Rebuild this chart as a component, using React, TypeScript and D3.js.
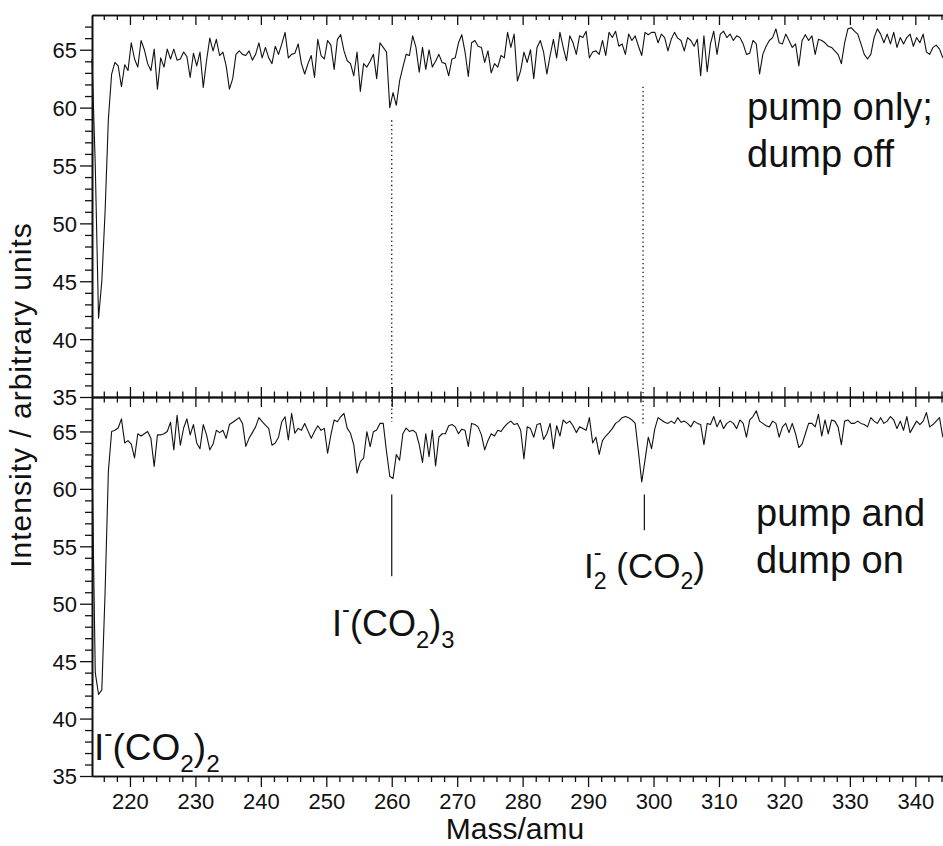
import React, { useEffect, useRef } from "react";
import * as d3 from "d3";

const W = 943;
const H = 846;

// mass axis of both spectra: first point and spacing (amu)
const MASS_START = 214.2;
const MASS_STEP = 0.5;

// upper trace: pump only, dump off
const pumpOnly: number[] = [
  64.2, 55, 41.8, 45, 51, 59, 62.9,
  63.9, 63.6, 61.8, 63.7, 63.2, 65.6, 64.2, 63.5, 65.8, 65.0, 63.8, 63.2, 65.05, 61.6,
  64.3, 63.5, 65.05, 64.2, 65.05, 64.1, 64.2, 64.8, 64.4, 62.6,
  64.7, 63.6, 64.8, 61.75, 64.05, 66.0, 64.9, 65.9, 64.5, 64.8,
  63.6, 61.6, 62.5, 64.6, 64.9, 64.6, 64.5, 64.9, 64.1, 64.6,
  65.6, 64.3, 65.2, 64.3, 63.8, 65.3, 64.6, 65.5, 66.5, 64.3,
  64.6, 64.7, 65.5, 63.8, 62.9, 63.8, 64.5, 62.6, 65.9, 64.5,
  64.2, 65.8, 65.4, 63.3, 65.9, 66.3, 64.9, 64.05, 63.8, 62.75,
  64.8, 61.4, 63.8, 63.5, 64.0, 64.6, 62.5, 65.6, 65.2, 64.8,
  60.0, 61.3, 60.2, 62.3, 63.5, 64.6, 64.5, 66.2, 65.2, 63.05,
  65.2, 63.3, 65.0, 63.5, 64.0, 64.6, 63.9, 63.8, 62.75, 64.2,
  64.3, 65.6, 66.3, 64.8, 62.7, 65.6, 65.8, 65.3, 65.2, 63.9,
  64.9, 63.0, 63.8, 63.5, 64.5, 64.3, 66.5, 65.2, 66.35, 62.3,
  63.2, 64.8, 63.9, 65.0, 62.5, 65.2, 65.8, 64.8, 62.9, 64.5,
  65.9, 64.3, 66.5, 65.2, 64.05, 66.2, 65.6, 64.6, 66.2, 66.05,
  66.6, 64.3, 64.8, 64.9, 64.6, 65.8, 64.5, 66.5, 66.05, 66.6,
  65.3, 65.5, 64.6, 66.35, 65.8, 66.2, 65.3, 64.5, 66.5, 66.3,
  66.5, 66.5, 65.6, 66.35, 66.05, 64.9, 65.9, 66.5, 66.0, 65.8,
  64.9, 66.05, 65.8, 65.3, 65.9, 62.75, 66.2, 63.1, 65.5, 66.6,
  64.6, 66.35, 66.6, 66.05, 66.35, 65.8, 66.2, 66.05, 65.5, 64.6,
  64.7, 65.8, 65.5, 62.9, 64.6, 65.3, 65.8, 66.05, 66.8, 65.6,
  65.5, 66.35, 65.8, 65.2, 65.5, 63.6, 65.8, 66.3, 65.8, 66.2,
  64.6, 65.9, 65.8, 65.6, 65.3, 65.2, 64.9, 64.6, 63.8, 65.6,
  66.8, 66.9, 66.6, 66.35, 65.5, 64.6, 64.2, 64.6, 66.05, 66.8,
  66.35, 65.6, 66.35, 65.5, 66.5, 65.2, 66.05, 65.5, 66.05, 66.35,
  65.3, 66.05, 65.6, 66.35, 64.8, 64.6, 65.2, 65.4, 65.05, 64.3,
];

// lower trace: pump and dump on
const pumpDump: number[] = [
  62.6, 44, 42.1, 42.5, 51, 61.5, 65.0,
  65.1, 65.3, 66.1, 64.0, 64.2, 63.9, 62.7, 64.8, 64.6, 64.8, 65.0, 64.4, 61.95, 64.7,
  64.7, 64.8, 65.0, 65.8, 63.4, 66.4, 63.8, 65.3, 66.1, 64.7,
  65.6, 64.0, 63.5, 65.6, 64.7, 63.4, 63.9, 65.1, 64.9, 65.1,
  64.4, 65.6, 65.8, 66.0, 66.2, 65.7, 63.7, 64.4, 64.9, 65.4,
  66.2, 65.85, 65.56, 65.27, 63.8, 64.0, 64.5, 65.85, 66.28, 64.26,
  66.57, 64.84, 65.27, 65.1, 65.7, 65.05, 64.4, 65.0, 65.5, 65.1,
  65.27, 63.1, 64.7, 66.0, 65.85, 66.28, 66.57, 65.27, 64.84, 63.83,
  61.37, 62.38, 62.67, 64.98, 63.68, 64.98, 65.12, 65.7, 65.7, 63.25,
  61.1, 60.9, 63.0, 62.5, 64.8, 65.3, 65.0, 65.1, 64.9, 63.85,
  62.3, 64.8, 62.8, 65.1, 62.0, 64.5, 64.8, 64.8, 65.5, 65.6,
  65.4, 64.8, 65.2, 65.1, 63.7, 65.7, 65.6, 65.4, 64.7, 63.4,
  64.2, 64.8, 64.6, 65.1, 65.0, 65.4, 65.7, 65.9, 65.6, 65.7,
  65.1, 62.6, 65.4, 65.25, 64.5, 65.6, 65.7, 64.3, 64.8, 65.7,
  63.5, 65.5, 64.6, 66.0, 65.7, 65.9, 65.5, 64.9, 65.4, 65.25,
  65.1, 66.2, 64.0, 64.5, 63.0, 64.2, 64.6, 64.9, 65.25, 65.7,
  65.9, 66.2, 66.3, 66.2, 66.0, 65.7, 63.2, 60.6, 62.5, 64.5,
  63.5, 65.25, 66.2, 66.0, 65.8, 65.7, 65.9, 65.7, 66.2, 65.8,
  65.9, 65.7, 65.4, 65.9, 65.7, 65.6, 63.85, 65.7, 65.6, 66.3,
  65.4, 66.0, 65.25, 65.7, 65.9, 65.7, 65.25, 66.0, 65.7, 64.5,
  66.0, 66.3, 66.8, 65.9, 65.7, 65.5, 65.4, 65.9, 65.7, 64.5,
  65.4, 65.7, 64.9, 65.7, 64.8, 63.6, 63.9, 64.8, 65.7, 65.7,
  65.4, 66.5, 64.6, 66.0, 64.8, 66.0, 65.9, 65.4, 63.85, 65.9,
  66.0, 65.7, 65.7, 65.9, 65.7, 65.6, 65.4, 66.2, 65.9, 65.7,
  66.2, 65.7, 65.9, 66.3, 66.0, 65.25, 65.9, 65.1, 66.3, 64.9,
  65.4, 65.9, 65.6, 65.9, 66.65, 65.4, 65.6, 65.9, 66.2, 64.5,
];

// axis ticks
const massTicks = [220, 230, 240, 250, 260, 270, 280, 290, 300, 310, 320, 330, 340];
const intensityTicks = [35, 40, 45, 50, 55, 60, 65];

// dotted guide lines crossing both panels: mass, value in upper panel, value in lower panel
const guideMass = [260.0, 298.4];
const guideTopValue = [58.9, 61.8];
const guideBottomValue = [65.85, 65.7];

// solid marker lines under the peaks in the lower panel
const markMass = [260.0, 298.6];
const markFrom = [59.5, 59.5];
const markTo = [52.4, 56.4];

const FONT = "'Liberation Sans', Arial, Helvetica, sans-serif";

type Seg = { t: string; k?: "sub" | "sup"; dx?: number };

function formula(g: any, x: number, y: number, size: number, segs: Seg[]) {
  const small = size * 0.66;
  const text = g.append("text")
    .attr("x", x)
    .attr("y", y)
    .attr("font-size", size)
    .attr("font-family", FONT)
    .attr("fill", "#111");
  let shift = 0;
  segs.forEach((s) => {
    const target = s.k === "sub" ? size * 0.32 : s.k === "sup" ? -size * 0.52 : 0;
    text.append("tspan")
      .attr("dx", s.dx || 0)
      .attr("dy", target - shift)
      .attr("font-size", s.k ? small : size)
      .text(s.t);
    shift = target;
  });
}

const App = () => {
  const ref = useRef<SVGSVGElement>(null);

  useEffect(() => {
    const svg = d3.select(ref.current);
    svg.selectAll("*").remove();

    const x = d3.scaleLinear().domain([214.2, 344.2]).range([92, 942.8]);
    const yTop = d3.scaleLinear().domain([35, 68]).range([397, 15]);
    const yBot = d3.scaleLinear().domain([35, 68]).range([776, 397]);

    const masses = d3.range(pumpOnly.length).map((i) => MASS_START + i * MASS_STEP);
    const minorMass = d3.range(216, 345, 2).filter((m) => m % 10 !== 0);
    const minorTop = d3.range(36, 68, 1).filter((v) => v % 5 !== 0);

    const styleAxis = (g: any, labels: boolean) => {
      g.select(".domain").attr("stroke", "#111").attr("stroke-width", 1.6);
      g.selectAll(".tick line").attr("stroke", "#111").attr("stroke-width", 1.3);
      g.selectAll(".tick text")
        .attr("font-family", FONT)
        .attr("font-size", 22)
        .attr("fill", "#111")
        .style("display", labels ? null : "none");
    };

    // left axes, one per panel
    [yTop, yBot].forEach((y) => {
      const minor = svg.append("g").attr("transform", "translate(92,0)")
        .call(d3.axisLeft(y).tickValues(minorTop).tickSize(7).tickSizeOuter(0).tickFormat(() => ""));
      styleAxis(minor, false);
      const major = svg.append("g").attr("transform", "translate(92,0)")
        .call(d3.axisLeft(y).tickValues(intensityTicks).tickSize(12).tickPadding(3).tickSizeOuter(0));
      styleAxis(major, true);
      major.selectAll(".tick text").attr("dy", "0.36em");
    });

    // bottom axis with labels, ticks outward
    const bMinor = svg.append("g").attr("transform", "translate(0,776)")
      .call(d3.axisBottom(x).tickValues(minorMass).tickSize(6).tickSizeOuter(0).tickFormat(() => ""));
    styleAxis(bMinor, false);
    const bMajor = svg.append("g").attr("transform", "translate(0,776)")
      .call(d3.axisBottom(x).tickValues(massTicks).tickSize(11).tickPadding(6).tickSizeOuter(0));
    styleAxis(bMajor, true);

    // top frame, ticks pointing in
    const tMinor = svg.append("g").attr("transform", "translate(0,15)")
      .call(d3.axisTop(x).tickValues(minorMass).tickSize(-5).tickSizeOuter(0).tickFormat(() => ""));
    styleAxis(tMinor, false);
    const tMajor = svg.append("g").attr("transform", "translate(0,15)")
      .call(d3.axisTop(x).tickValues(massTicks).tickSize(-10).tickSizeOuter(0).tickFormat(() => ""));
    styleAxis(tMajor, false);

    // panel divider, ticks on both sides
    [1, -1].forEach((dir) => {
      const mn = svg.append("g").attr("transform", "translate(0,397)")
        .call(d3.axisBottom(x).tickValues(minorMass).tickSize(5.5 * dir).tickSizeOuter(0).tickFormat(() => ""));
      styleAxis(mn, false);
      const mj = svg.append("g").attr("transform", "translate(0,397)")
        .call(d3.axisBottom(x).tickValues(massTicks).tickSize(10 * dir).tickSizeOuter(0).tickFormat(() => ""));
      styleAxis(mj, false);
    });

    // spectra
    const lineTop = d3.line<number>().x((_, i) => x(masses[i])).y((d) => yTop(d));
    const lineBot = d3.line<number>().x((_, i) => x(masses[i])).y((d) => yBot(d));
    svg.append("path")
      .attr("d", lineTop(pumpOnly))
      .attr("fill", "none")
      .attr("stroke", "#111")
      .attr("stroke-width", 1.1)
      .attr("stroke-linejoin", "round");
    svg.append("path")
      .attr("d", lineBot(pumpDump))
      .attr("fill", "none")
      .attr("stroke", "#111")
      .attr("stroke-width", 1.1)
      .attr("stroke-linejoin", "round");

    // dotted guides
    guideMass.forEach((m, i) => {
      svg.append("line")
        .attr("x1", x(m)).attr("x2", x(m))
        .attr("y1", yTop(guideTopValue[i])).attr("y2", yBot(guideBottomValue[i]))
        .attr("stroke", "#111")
        .attr("stroke-width", 1.3)
        .attr("stroke-dasharray", "1.3,3");
    });

    // solid markers
    markMass.forEach((m, i) => {
      svg.append("line")
        .attr("x1", x(m)).attr("x2", x(m))
        .attr("y1", yBot(markFrom[i])).attr("y2", yBot(markTo[i]))
        .attr("stroke", "#111")
        .attr("stroke-width", 1.2);
    });

    // panel notes
    const note = (tx: number, ty: number, s: string) =>
      svg.append("text")
        .attr("x", tx).attr("y", ty)
        .attr("font-family", FONT)
        .attr("font-size", 38)
        .attr("fill", "#111")
        .text(s);
    note(747, 120, "pump only;");
    note(747, 167, "dump off");
    note(756, 526, "pump and");
    note(756, 573, "dump on");

    // peak labels
    formula(svg, 332, 636, 36, [
      { t: "I" }, { t: "-", k: "sup" }, { t: "(CO" }, { t: "2", k: "sub" }, { t: ")" }, { t: "3", k: "sub" },
    ]);
    const s2 = 35 * 0.66;
    formula(svg, 584, 578, 35, [
      { t: "I" }, { t: "2", k: "sub" }, { t: "-", k: "sup", dx: -0.556 * s2 },
      { t: " (CO", dx: (0.556 - 0.333) * s2 }, { t: "2", k: "sub" }, { t: ")" },
    ]);
    formula(svg, 94, 760, 37, [
      { t: "I" }, { t: "-", k: "sup" }, { t: "(CO" }, { t: "2", k: "sub" }, { t: ")" }, { t: "2", k: "sub" },
    ]);

    // axis titles
    svg.append("text")
      .attr("x", 515).attr("y", 839)
      .attr("text-anchor", "middle")
      .attr("font-family", FONT)
      .attr("font-size", 30)
      .attr("fill", "#111")
      .text("Mass/amu");
    svg.append("text")
      .attr("transform", "translate(31,395) rotate(-90)")
      .attr("text-anchor", "middle")
      .attr("font-family", FONT)
      .attr("font-size", 30)
      .attr("letter-spacing", 1)
      .attr("fill", "#111")
      .text("Intensity / arbitrary units");
  }, []);

  return (
    <svg
      ref={ref}
      width={W}
      height={H}
      style={{ position: "absolute", left: 0, top: 0, background: "#fff" }}
    />
  );
};

export default App;
